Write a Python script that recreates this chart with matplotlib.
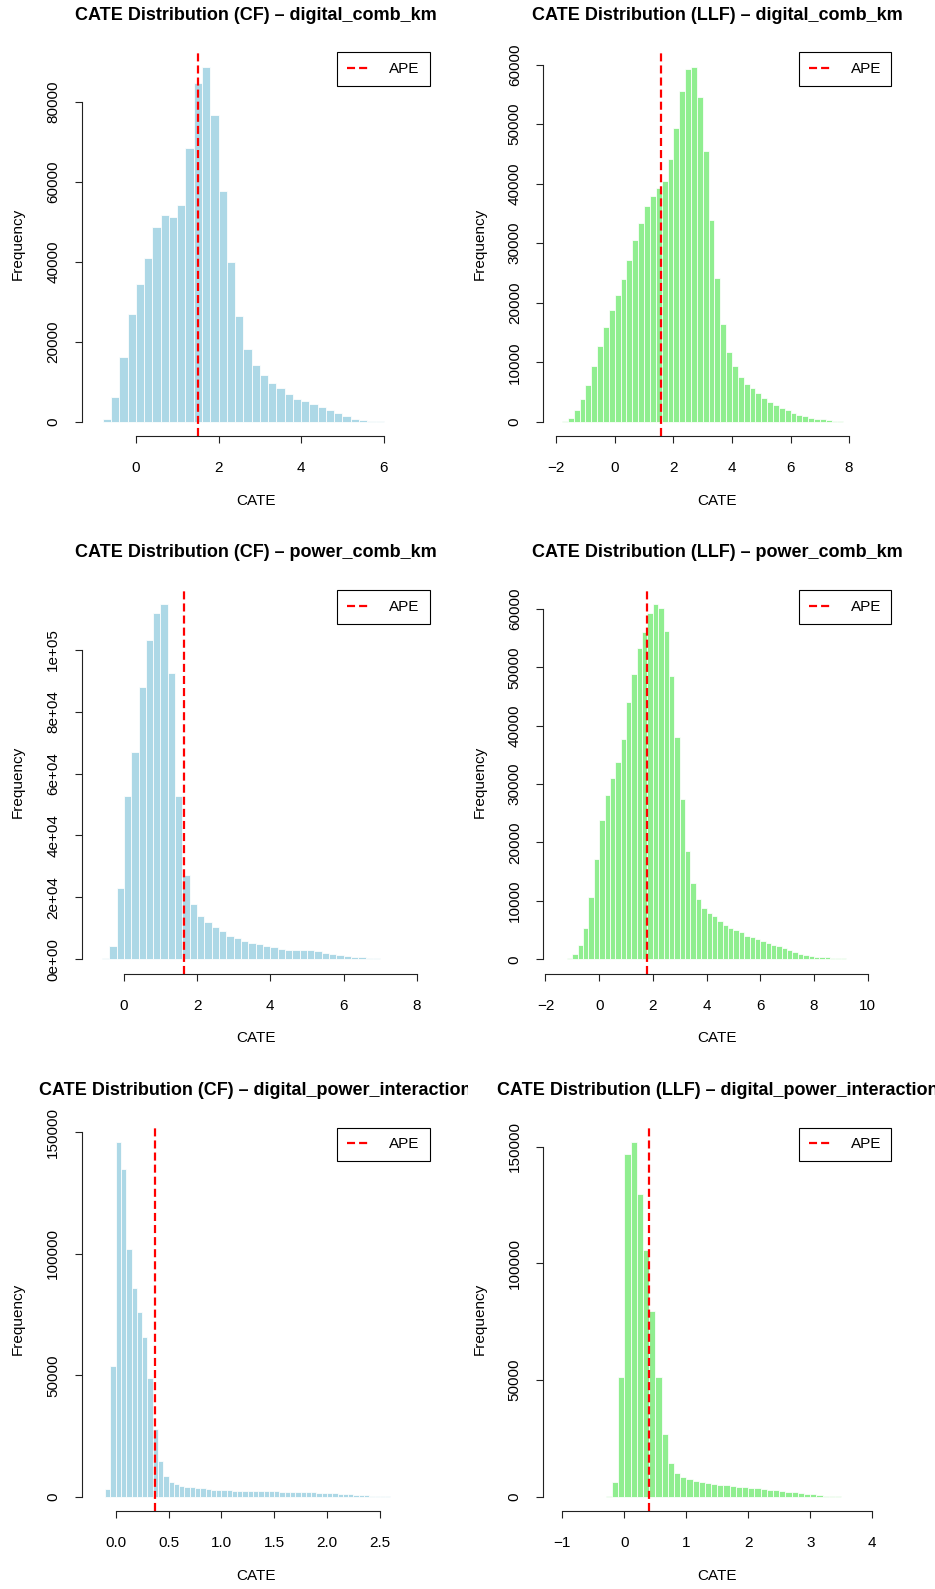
import matplotlib
matplotlib.use("Agg")
import matplotlib.pyplot as plt
import numpy as np
from matplotlib.transforms import Bbox, TransformedBbox

plt.rcParams['font.family'] = ['Liberation Sans', 'DejaVu Sans']
plt.rcParams['lines.scale_dashes'] = False

# ---- data: histogram counts (first break, bin width, counts) ----
cf_digital_start = -1.0
cf_digital_width = 0.2
cf_digital_counts = [20, 750, 6250, 16200, 26900, 34400, 41000, 48600, 51800, 51200,
                     54300, 68400, 84800, 88800, 76800, 57600, 40000, 26400, 18200, 14300,
                     11600, 9760, 8500, 7000, 5750, 5250, 4500, 3750, 3000, 2170,
                     1420, 750, 450, 250, 120, 40, 10, 5, 2]
cf_digital_ape = 1.50

llf_digital_start = -2.0
llf_digital_width = 0.2
llf_digital_counts = [10, 80, 560, 1900, 3800, 6200, 9350, 12650, 16000, 18800,
                      21300, 24000, 27250, 30550, 33460, 36300, 37900, 39300, 40400, 44150,
                      49350, 55600, 59300, 59650, 54600, 45550, 33970, 24100, 16500, 11750,
                      9300, 7600, 6400, 5650, 4870, 4000, 3400, 2850, 2350, 1900,
                      1500, 1180, 900, 560, 450, 390, 300, 200, 100, 30,
                      15, 8, 4, 2, 1]
llf_digital_ape = 1.58

cf_power_start = -0.8
cf_power_width = 0.2
cf_power_counts = [20, 300, 4400, 23000, 52700, 66800, 88100, 103100, 111800, 114700,
                   92600, 52700, 27200, 18000, 14100, 12200, 10400, 9150, 7500, 6800,
                   6000, 5400, 4850, 4400, 3900, 3450, 3000, 3000, 3000, 2900,
                   2800, 2150, 1700, 1300, 1200, 750, 600, 450, 330, 220,
                   120, 40, 10, 3]
cf_power_ape = 1.64

llf_power_start = -1.6
llf_power_width = 0.2
llf_power_counts = [10, 60, 230, 910, 2400, 5400, 10700, 17200, 23900, 28100,
                    31100, 33800, 37800, 44000, 48900, 53300, 56000, 59300, 60800, 60200,
                    56200, 48500, 38000, 27500, 18600, 13100, 10400, 8840, 7990, 7360,
                    6620, 5880, 5300, 4960, 4620, 4050, 3760, 3420, 3190, 2850,
                    2510, 2220, 1880, 1600, 1250, 970, 800, 630, 460, 400,
                    340, 290, 230, 180, 110, 50, 12, 6, 3, 1]
llf_power_ape = 1.78

cf_inter_start = -0.2
cf_inter_width = 0.05
cf_inter_counts = [5, 30, 3150, 53800, 146100, 135000, 101900, 85900, 76150, 65600,
                   48700, 27850, 14700, 8500, 5900, 5080, 4390, 4100, 3840, 3700,
                   3430, 3150, 2880, 2750, 2650, 2600, 2550, 2500, 2450, 2400,
                   2350, 2300, 2250, 2250, 2200, 2150, 2100, 2050, 2000, 1950,
                   1900, 1850, 1750, 1650, 1550, 1450, 1300, 1150, 1000, 850,
                   700, 550, 450, 350, 250, 150, 60, 25, 10, 5, 2]
cf_inter_ape = 0.37

llf_inter_start = -1.1
llf_inter_width = 0.1
llf_inter_counts = [2, 3, 5, 8, 12, 20, 40, 120, 430, 6400,
                    51100, 147000, 152100, 129700, 105900, 79600, 51100, 26700, 14300, 10000,
                    8560, 7560, 6850, 6140, 5700, 5420, 5140, 4850, 4570, 4280,
                    4000, 3850, 3570, 3280, 3000, 2710, 2430, 2140, 1860, 1570,
                    1280, 1000, 710, 500, 350, 200, 90, 40, 10, 5,
                    2, 1]
llf_inter_ape = 0.40

# ---- tick positions and labels ----
cf_digital_xticks = [0, 2, 4, 6]
llf_digital_xticks = [-2, 0, 2, 4, 6, 8]
cf_power_xticks = [0, 2, 4, 6, 8]
llf_power_xticks = [-2, 0, 2, 4, 6, 8, 10]
cf_inter_xticks = [0.0, 0.5, 1.0, 1.5, 2.0, 2.5]
cf_inter_xlabels = ["0.0", "0.5", "1.0", "1.5", "2.0", "2.5"]
llf_inter_xticks = [-1, 0, 1, 2, 3, 4]

cf_digital_yticks = [0, 20000, 40000, 60000, 80000]
llf_digital_yticks = [0, 10000, 20000, 30000, 40000, 50000, 60000]
cf_power_yticks = [0, 20000, 40000, 60000, 80000, 100000]
cf_power_ylabels = ["0e+00", "2e+04", "4e+04", "6e+04", "8e+04", "1e+05"]
llf_power_yticks = [0, 10000, 20000, 30000, 40000, 50000, 60000]
inter_yticks = [0, 50000, 100000, 150000]

titles = ["CATE Distribution (CF) \u2013 digital_comb_km",
          "CATE Distribution (LLF) \u2013 digital_comb_km",
          "CATE Distribution (CF) \u2013 power_comb_km",
          "CATE Distribution (LLF) \u2013 power_comb_km",
          "CATE Distribution (CF) \u2013 digital_power_interaction",
          "CATE Distribution (LLF) \u2013 digital_power_interaction"]

CF_COLOR = '#ADD8E6'
LLF_COLOR = '#90EE90'

# ---- layout (pixels) ----
FIG_W, FIG_H = 935, 1589
COL_LEFT = [81.7, 543.3]
ROW_TOP = [52.5, 590.0, 1127.5]
PLOT_W, PLOT_H = 348.0, 383.5

fig = plt.figure(figsize=(FIG_W / 100, FIG_H / 100), dpi=100)


def cate_hist(row, col, start, width, counts, ape, color, title,
              xticks, yticks, xlabels=None, ylabels=None):
    ax = fig.add_axes([COL_LEFT[col] / FIG_W, 1 - (ROW_TOP[row] + PLOT_H) / FIG_H,
                       PLOT_W / FIG_W, PLOT_H / FIG_H])
    counts = np.asarray(counts, dtype=float)
    edges = start + width * np.arange(len(counts) + 1)
    ax.bar(edges[:-1], counts, width=width, align='edge', color=color,
           edgecolor='white', linewidth=0.55)

    # R style ranges: 4% padding on both sides
    lo, hi = edges[0], edges[-1]
    ax.set_xlim(lo - 0.04 * (hi - lo), hi + 0.04 * (hi - lo))
    top = counts.max()
    ax.set_ylim(-0.04 * top, 1.04 * top)

    ax.axvline(ape, color='red', lw=1.6, dashes=(5.8, 2.9), label='APE')

    for s in ['top', 'right']:
        ax.spines[s].set_visible(False)
    ax.spines['bottom'].set_bounds(xticks[0], xticks[-1])
    ax.spines['left'].set_bounds(yticks[0], yticks[-1])
    for s in ['bottom', 'left']:
        ax.spines[s].set_linewidth(0.8)
        ax.spines[s].set_color('#222222')

    ax.set_xticks(xticks)
    ax.set_yticks(yticks)
    if xlabels is not None:
        ax.set_xticklabels(xlabels)
    if ylabels is not None:
        ax.set_yticklabels(ylabels)
    else:
        ax.set_yticklabels([str(v) for v in yticks])
    ax.tick_params(axis='both', direction='out', length=5, width=0.8,
                   color='#222222', labelsize=11)
    ax.tick_params(axis='x', pad=13)
    ax.tick_params(axis='y', pad=10.5)
    for lab in ax.get_yticklabels():
        lab.set_rotation(90)
        lab.set_va('center')
        lab.set_ha('right')

    ax.set_xlabel('CATE', fontsize=11)
    ax.xaxis.set_label_coords(0.5, -64.6 / PLOT_H)
    ax.xaxis.label.set_va('center')
    ax.set_ylabel('Frequency', fontsize=11)
    ax.yaxis.set_label_coords(-63.5 / PLOT_W, 0.5)
    ax.yaxis.label.set_va('center')

    t = ax.set_title(title, fontsize=13, fontweight='bold',
                     y=1 + 37.3 / PLOT_H, va='center', pad=0)
    # clip the title to its own figure column, as R does
    clip = Bbox([[col * 0.5, 0], [col * 0.5 + 0.5, 1]])
    t.set_clip_box(TransformedBbox(clip, fig.transFigure))
    t.set_clip_on(True)

    leg = ax.legend(loc='upper right', borderaxespad=0, fancybox=False,
                    edgecolor='black', framealpha=1, fontsize=11,
                    handlelength=1.45, handletextpad=1.3, borderpad=0.65)
    leg.get_frame().set_linewidth(0.8)
    return ax


cate_hist(0, 0, cf_digital_start, cf_digital_width, cf_digital_counts, cf_digital_ape,
          CF_COLOR, titles[0], cf_digital_xticks, cf_digital_yticks)
cate_hist(0, 1, llf_digital_start, llf_digital_width, llf_digital_counts, llf_digital_ape,
          LLF_COLOR, titles[1], llf_digital_xticks, llf_digital_yticks)
cate_hist(1, 0, cf_power_start, cf_power_width, cf_power_counts, cf_power_ape,
          CF_COLOR, titles[2], cf_power_xticks, cf_power_yticks, ylabels=cf_power_ylabels)
cate_hist(1, 1, llf_power_start, llf_power_width, llf_power_counts, llf_power_ape,
          LLF_COLOR, titles[3], llf_power_xticks, llf_power_yticks)
cate_hist(2, 0, cf_inter_start, cf_inter_width, cf_inter_counts, cf_inter_ape,
          CF_COLOR, titles[4], cf_inter_xticks, inter_yticks, xlabels=cf_inter_xlabels)
cate_hist(2, 1, llf_inter_start, llf_inter_width, llf_inter_counts, llf_inter_ape,
          LLF_COLOR, titles[5], llf_inter_xticks, inter_yticks)

fig.savefig('out.png', dpi=100)
